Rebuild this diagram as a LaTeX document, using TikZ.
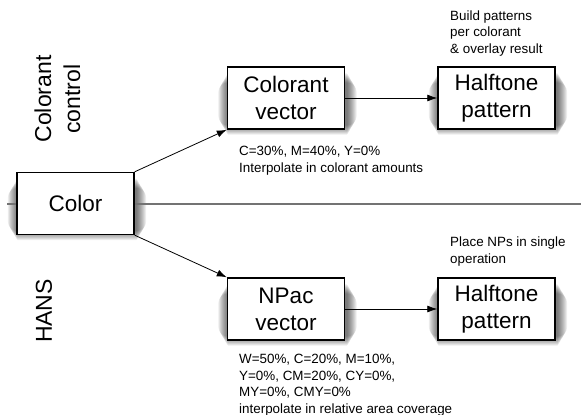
\documentclass[tikz,border=0pt]{standalone}
\usepackage{fontspec}
\setmainfont{Liberation Sans}
\usetikzlibrary{arrows.meta,backgrounds}
\begin{document}
\begin{tikzpicture}[x=1pt,y=-1pt,
  box/.style={draw=black, line width=1.4pt, fill=white, minimum width=117pt, minimum height=62pt,
    inner sep=0pt, align=center, font=\fontsize{22.5}{27}\selectfont},
  side/.style={rotate=90, align=center, font=\fontsize{23}{29}\selectfont},
  note/.style={anchor=base west, align=left, inner sep=0pt, font=\fontsize{13.4}{16.5}\selectfont},
  arr/.style={-{Latex[length=10pt,width=7pt]}, line width=0.8pt}]
\useasboundingbox (0,0) rectangle (581,415);
\coordinate (ls) at (7,204);
\coordinate (le) at (581,204);
\draw[black!55, line width=2pt] (ls) -- (le);
\node[box] (color) at (75.5,203.5) {Color};
\node[box] (cv) at (286,98) {Colorant\\vector};
\node[box] (h1) at (496.5,98) {Halftone\\pattern};
\node[box] (np) at (286,309) {NPac\\vector};
\node[box] (h2) at (496.5,309) {Halftone\\pattern};
\begin{scope}[on background layer]
\foreach \n in {color,cv,h1,np,h2}{
  \foreach \r in {1,2,...,10}{
    \fill[black, opacity=0.07, rounded corners=\r pt]
      ([xshift=1.5pt-\r pt, yshift=-6pt+\r pt]\n.south west) rectangle ([xshift=1.5pt+\r pt, yshift=-6pt-\r pt]\n.north east);
  }
}
\end{scope}
\draw[arr] (color.north east) -- (cv.south west);
\draw[arr] (color.south east) -- (np.north west);
\draw[arr] (cv) -- (h1);
\draw[arr] (np) -- (h2);
\node[side] (cc) at (57.5,99) {Colorant\\control};
\node[side] (hans) at (44,311) {HANS};
\node[note] (n1) at (239,172) {C=30\%, M=40\%, Y=0\%\\Interpolate in colorant amounts};
\node[note] (n2) at (450,53) {Build patterns\\per colorant\\\& overlay result};
\node[note] (n3) at (450,263) {Place NPs in single\\operation};
\node[note] (n4) at (239,413) {W=50\%, C=20\%, M=10\%,\\Y=0\%, CM=20\%, CY=0\%,\\MY=0\%, CMY=0\%\\interpolate in relative area coverage};
\end{tikzpicture}
\end{document}
